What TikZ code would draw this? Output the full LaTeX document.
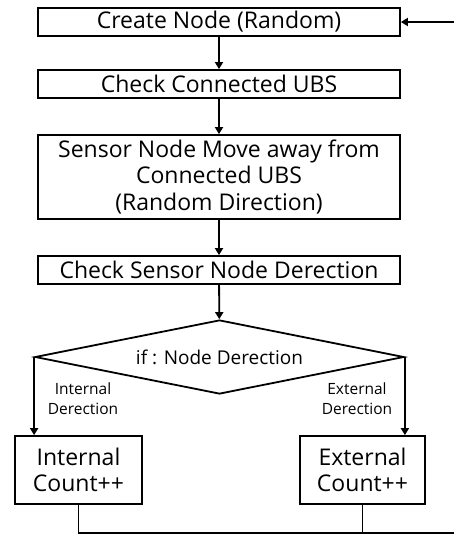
\documentclass[tikz,border=0pt]{standalone}
\usepackage{fontspec}
\setmainfont{Open Sans}
\usetikzlibrary{shapes.geometric,arrows.meta}
\begin{document}
\begin{tikzpicture}[x=1pt,y=-1pt,
  every node/.style={inner sep=0pt, font=\fontsize{23}{26.5}\selectfont},
  procbox/.style={draw, line width=1.8pt, rectangle, align=center},
  wide/.style={procbox, minimum width=362pt},
  decision/.style={draw, line width=1.8pt, diamond, shape aspect=5,
                   minimum width=369pt, minimum height=74pt,
                   font=\fontsize{19}{23}\selectfont},
  branchlabel/.style={align=center, font=\fontsize{15.5}{20}\selectfont},
  flow/.style={line width=1.8pt, -{Triangle[length=7pt,width=8pt]}},
  link/.style={line width=1.8pt}]
\useasboundingbox (0,0) rectangle (453,536);

\node[wide, minimum height=28pt] (create) at (219,22) {Create Node (Random)};
\node[wide, minimum height=28pt] (check)  at (219,84) {Check Connected UBS};
\node[wide, minimum height=84pt] (move)   at (219,177)
  {Sensor Node Move away from\\Connected UBS\\(Random Direction)};
\node[wide, minimum height=28pt] (dir)    at (219,270) {Check Sensor Node Derection};
\node[decision] (cond) at (219.5,357) {if : Node Derection};
\node[procbox, minimum width=127pt, minimum height=68pt] (int) at (78.5,470)
  {Internal\\Count++};
\node[procbox, minimum width=125pt, minimum height=68pt] (ext) at (362.5,470)
  {External\\Count++};

\node[branchlabel] (intlab) at (83,399) {Internal\\Derection};
\node[branchlabel] (extlab) at (357,399) {External\\Derection};

\coordinate (joinL) at (78.5,533);
\coordinate (joinR) at (362.5,533);
\coordinate (corner) at (462,533);
\coordinate (top) at (462,22);

\draw[flow] (create) -- (check);
\draw[flow] (check) -- (move);
\draw[flow] (move) -- (dir);
\draw[flow] (dir) -- (cond);
\draw[flow] (cond.west) -- (cond.west |- int.north);
\draw[flow] (cond.east) -- (cond.east |- ext.north);
\draw[link] (int.south) -- (joinL) -- (corner);
\draw[link] (ext.south) -- (joinR);
\draw[flow] (corner) -- (top) -- (create.east);
\end{tikzpicture}
\end{document}
